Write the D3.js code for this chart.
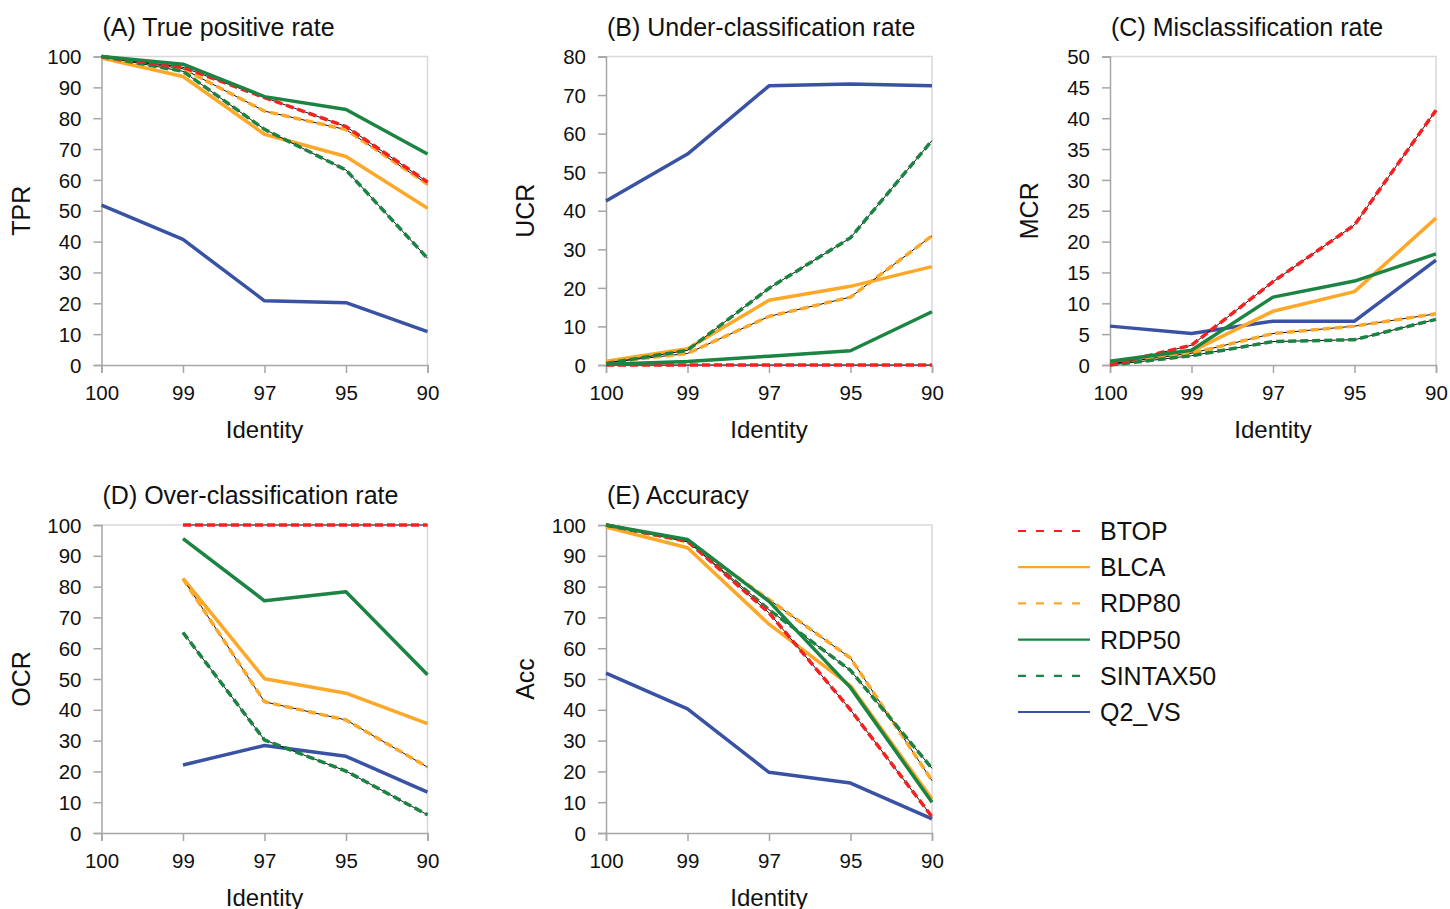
<!DOCTYPE html>
<html>
<head>
<meta charset="utf-8">
<script src="https://cdn.jsdelivr.net/npm/d3@7"></script>
<style>
  body { margin: 0; background: #fff; }
  svg { font-family: "Liberation Sans", Arial, sans-serif; }
</style>
</head>
<body>
<svg id="chart" width="1450" height="909"></svg>
<script>
// x categories (identity threshold)
const identity = ["100", "99", "97", "95", "90"];

const methods = ["BTOP", "BLCA", "RDP80", "RDP50", "SINTAX50", "Q2_VS"];

// values, one list per method, per panel
const tpr = {
    BTOP:     [100, 96.5, 86.7, 77.3, 59.3],
    BLCA:     [99.5, 93.5, 74.8, 67.6, 50.8],
    RDP80:    [100, 96, 82.3, 76.3, 58.6],
    RDP50:    [100, 97.5, 87, 82.8, 68.4],
    SINTAX50: [100, 95.2, 76.4, 63.2, 34.6],
    Q2_VS:    [51.8, 40.7, 20.8, 20.2, 10.8]
};
const ucr = {
    BTOP:     [0, 0, 0, 0, 0],
    BLCA:     [1.0, 4.2, 16.8, 20.4, 25.5],
    RDP80:    [0.6, 3.0, 12.6, 17.6, 33.5],
    RDP50:    [0.2, 0.9, 2.3, 3.7, 13.8],
    SINTAX50: [0.4, 3.8, 19.9, 33.0, 58.2],
    Q2_VS:    [42.5, 54.7, 72.4, 72.9, 72.4]
};
const mcr = {
    BTOP:     [0, 3.2, 13.5, 22.7, 41.3],
    BLCA:     [0.3, 2.2, 8.7, 11.9, 23.8],
    RDP80:    [0.2, 1.9, 5.1, 6.3, 8.3],
    RDP50:    [0.6, 2.4, 11.0, 13.6, 18.0],
    SINTAX50: [0, 1.5, 3.8, 4.1, 7.4],
    Q2_VS:    [6.3, 5.1, 7.1, 7.1, 17.0]
};
const ocr = {
    BTOP:     [null, 100, 100, 100, 100],
    BLCA:     [null, 82.7, 50.1, 45.4, 35.5],
    RDP80:    [null, 82.5, 42.6, 36.7, 21.4],
    RDP50:    [null, 95.6, 75.4, 78.3, 51.4],
    SINTAX50: [null, 65.1, 30.2, 20.1, 5.9],
    Q2_VS:    [null, 22.1, 28.4, 24.9, 13.3]
};
const acc = {
    BTOP:     [100, 94.8, 71.5, 40, 5.3],
    BLCA:     [99.3, 92.6, 67.8, 47.8, 11.0],
    RDP80:    [100, 94.5, 75.8, 56.8, 17.0],
    RDP50:    [100, 95.3, 75.2, 47.2, 10.0],
    SINTAX50: [100, 94.8, 72.5, 52.8, 21.0],
    Q2_VS:    [51.9, 40.3, 19.7, 16.2, 4.6]
};

const style = {
    BTOP:     {color: "#f52020", dashed: true},
    BLCA:     {color: "#fda828", dashed: false},
    RDP80:    {color: "#fda828", dashed: true},
    RDP50:    {color: "#1c8442", dashed: false},
    SINTAX50: {color: "#1c8442", dashed: true},
    Q2_VS:    {color: "#3a52a3", dashed: false}
};

// draw order (bottom to top)
const drawOrder = ["Q2_VS", "BLCA", "RDP80", "SINTAX50", "BTOP", "RDP50"];

const panels = [
    {title: "(A) True positive rate", ylab: "TPR", data: tpr, max: 100, step: 10, left: 101.5, right: 427.5, top: 56.5, bottom: 365},
    {title: "(B) Under-classification rate", ylab: "UCR", data: ucr, max: 80, step: 10, left: 606, right: 932, top: 56.5, bottom: 365},
    {title: "(C) Misclassification rate", ylab: "MCR", data: mcr, max: 50, step: 5, left: 1110, right: 1436, top: 56.5, bottom: 365},
    {title: "(D) Over-classification rate", ylab: "OCR", data: ocr, max: 100, step: 10, left: 101.5, right: 427.5, top: 525, bottom: 833},
    {title: "(E) Accuracy", ylab: "Acc", data: acc, max: 100, step: 10, left: 606, right: 932, top: 525, bottom: 833}
];

const svg = d3.select("#chart");

panels.forEach((p) => {
    let g = svg.append("g");

    let x = d3.scalePoint().domain(identity).range([p.left, p.right]);
    let y = d3.scaleLinear().domain([0, p.max]).range([p.bottom, p.top]);

    //light frame on top and right
    g.append("path")
        .attr("d", `M${p.left},${p.top}H${p.right}V${p.bottom}`)
        .attr("fill", "none")
        .attr("stroke", "#d9d9d9")
        .attr("stroke-width", 1.5);

    //y axis
    let yAxis = g.append("g")
        .attr("transform", `translate(${p.left},0)`)
        .call(d3.axisLeft(y).tickValues(d3.range(0, p.max + 0.01, p.step)).tickSize(8).tickPadding(12));
    //x axis
    let xAxis = g.append("g")
        .attr("transform", `translate(0,${p.bottom})`)
        .call(d3.axisBottom(x).tickSize(8).tickPadding(8));

    [yAxis, xAxis].forEach((a) => {
        a.select(".domain").attr("stroke", "#a6a6a6").attr("stroke-width", 1.5);
        a.selectAll(".tick line").attr("stroke", "#a6a6a6").attr("stroke-width", 1.5);
        a.selectAll(".tick text")
            .attr("fill", "#111")
            .style("font-size", "20.5px")
            .style("font-family", "'Liberation Sans', Arial, sans-serif");
    });
    yAxis.selectAll(".tick text").attr("dy", "0.35em");
    xAxis.selectAll(".tick text").attr("dy", "0.95em");

    //lines
    let line = d3.line()
        .defined((d) => d != null)
        .x((d, i) => x(identity[i]))
        .y((d) => y(d));

    drawOrder.forEach((m) => {
        let s = style[m];
        let vals = p.data[m];
        if (s.dashed) {
            //thin black guide under the dashes
            g.append("path")
                .attr("d", line(vals))
                .attr("fill", "none")
                .attr("stroke", "#111")
                .attr("stroke-width", 1);
            g.append("path")
                .attr("d", line(vals))
                .attr("fill", "none")
                .attr("stroke", s.color)
                .attr("stroke-width", 3.5)
                .attr("stroke-dasharray", "8,4");
        } else {
            g.append("path")
                .attr("d", line(vals))
                .attr("fill", "none")
                .attr("stroke", s.color)
                .attr("stroke-width", 3.5)
                .attr("stroke-linejoin", "round");
        }
    });

    //title
    g.append("text")
        .attr("x", p.left + 1)
        .attr("y", p.top - 21)
        .style("font-size", "25px")
        .attr("fill", "#111")
        .text(p.title);

    //axis titles
    g.append("text")
        .attr("x", (p.left + p.right) / 2)
        .attr("y", p.bottom + 73)
        .attr("text-anchor", "middle")
        .style("font-size", "24px")
        .attr("fill", "#111")
        .text("Identity");

    g.append("text")
        .attr("transform", `translate(${p.left - 72},${(p.top + p.bottom) / 2}) rotate(-90)`)
        .attr("text-anchor", "middle")
        .style("font-size", "25px")
        .attr("fill", "#111")
        .text(p.ylab);
});

//legend
let legend = svg.append("g").attr("transform", "translate(1018,531)");
methods.forEach((m, i) => {
    let s = style[m];
    let row = legend.append("g").attr("transform", `translate(0,${i * 36.2})`);
    row.append("line")
        .attr("x1", 0).attr("x2", s.dashed ? 64 : 72)
        .attr("stroke", s.color)
        .attr("stroke-width", 2.2)
        .attr("stroke-dasharray", s.dashed ? "8,10" : null);
    row.append("text")
        .attr("x", 82)
        .attr("dy", "0.36em")
        .style("font-size", "25px")
        .attr("fill", "#111")
        .text(m);
});
</script>
</body>
</html>
